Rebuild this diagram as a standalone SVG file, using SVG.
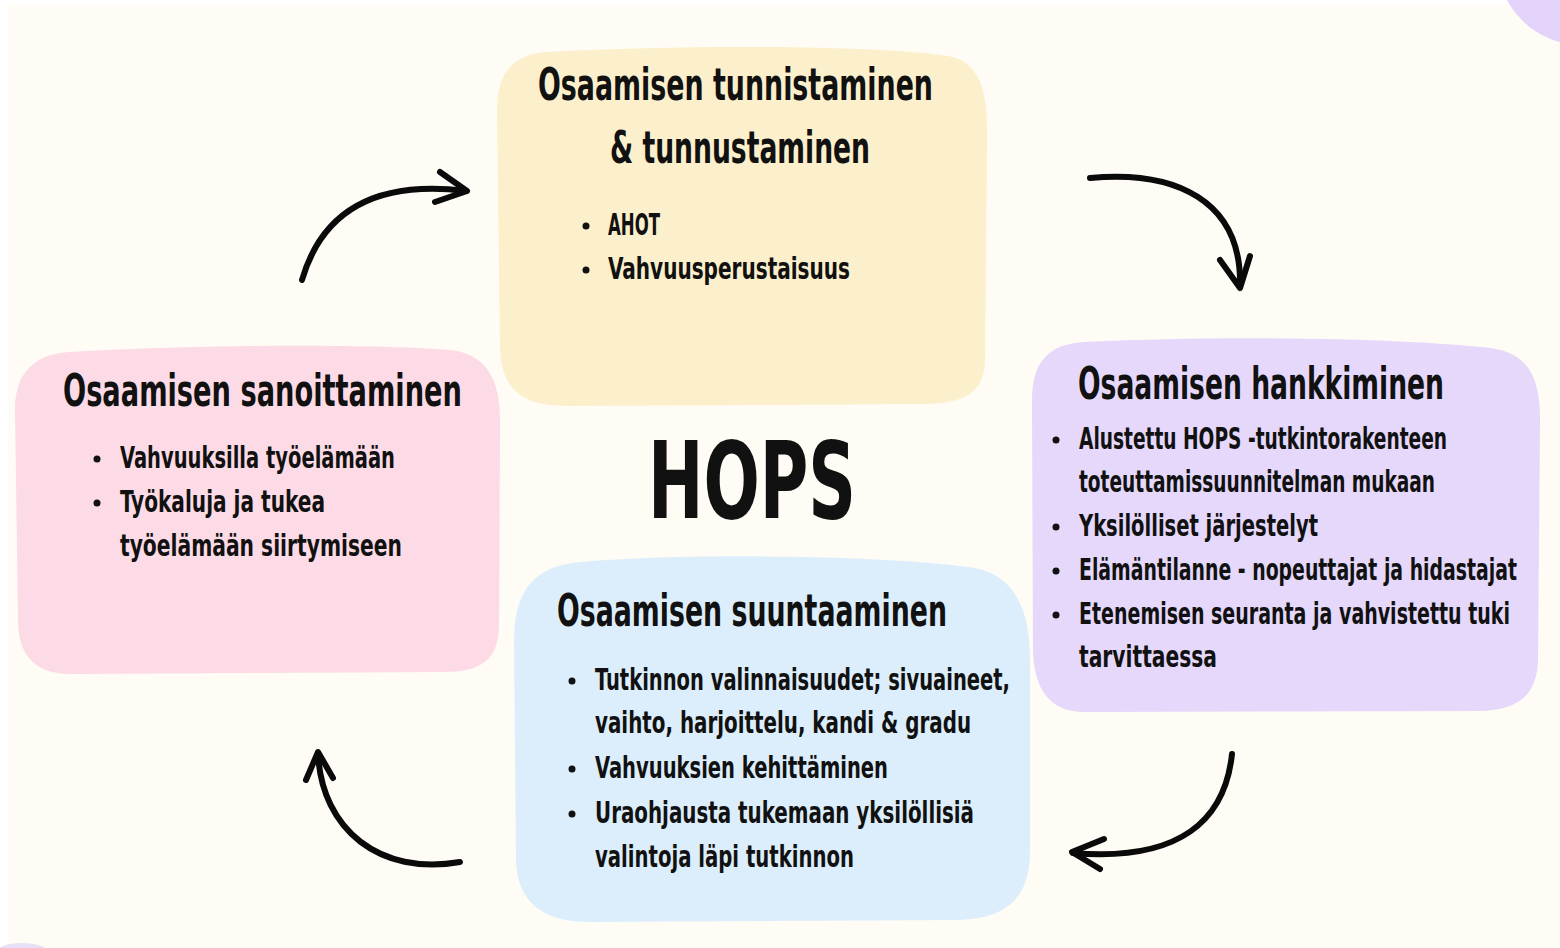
<svg xmlns="http://www.w3.org/2000/svg" width="1560" height="948" viewBox="0 0 1560 948">
<style>
.t{font-family:"Liberation Sans Narrow","DejaVu Sans Condensed","Liberation Sans",sans-serif;font-weight:bold;fill:#111;}
.h{font-size:44px;}
.b{font-size:30px;}
.dot{fill:#111;}
.arr{fill:none;stroke:#0a0a0a;stroke-width:6;stroke-linecap:round;stroke-linejoin:round;}
</style>
<rect x="0" y="0" width="1560" height="948" fill="#ffffff"/>
<rect x="8" y="5" width="1552" height="943" fill="#fefcf4"/>
<circle cx="1582" cy="-40" r="85" fill="#e3d3fb"/>
<ellipse cx="22" cy="952" rx="26" ry="9" fill="#e8e0f6"/>

<g id="node-tunnistaminen">
<path d="M548,52 C700,44 880,46 948,56 C982,62 988,95 987,140 L985,360 C984,395 962,404 920,404 L565,406 C518,406 500,385 500,345 L497,110 C497,70 515,54 548,52 Z" fill="#fcefcb"/>
<circle class="dot" cx="586" cy="226" r="3.5"/>
<circle class="dot" cx="586" cy="270" r="3.5"/>
<g transform="scale(0.65 1)">
<text class="t h" x="827.7" y="100" textLength="607.7" lengthAdjust="spacingAndGlyphs">Osaamisen tunnistaminen</text>
<text class="t h" x="938.5" y="163" textLength="400" lengthAdjust="spacingAndGlyphs">&amp; tunnustaminen</text>
<text class="t b" x="935.4" y="235" textLength="80" lengthAdjust="spacingAndGlyphs">AHOT</text>
<text class="t b" x="935.4" y="279" textLength="372.3" lengthAdjust="spacingAndGlyphs">Vahvuusperustaisuus</text>
</g>
</g>

<g id="node-suuntaaminen">
<path d="M580,562 C700,552 900,556 975,568 C1015,576 1030,610 1030,660 L1030,850 C1030,900 1005,918 960,920 L590,922 C540,922 517,900 516,860 L514,640 C514,590 535,566 580,562 Z" fill="#dceefb"/>
<circle class="dot" cx="572" cy="681" r="3.5"/>
<circle class="dot" cx="572" cy="769" r="3.5"/>
<circle class="dot" cx="572" cy="814" r="3.5"/>
<g transform="scale(0.65 1)">
<text class="t h" x="856.9" y="626" textLength="600" lengthAdjust="spacingAndGlyphs">Osaamisen suuntaaminen</text>
<text class="t b" x="915.4" y="690" textLength="638.5" lengthAdjust="spacingAndGlyphs">Tutkinnon valinnaisuudet; sivuaineet,</text>
<text class="t b" x="915.4" y="733" textLength="578.5" lengthAdjust="spacingAndGlyphs">vaihto, harjoittelu, kandi &amp; gradu</text>
<text class="t b" x="915.4" y="778" textLength="450.8" lengthAdjust="spacingAndGlyphs">Vahvuuksien kehittäminen</text>
<text class="t b" x="915.4" y="823" textLength="583.1" lengthAdjust="spacingAndGlyphs">Uraohjausta tukemaan yksilöllisiä</text>
<text class="t b" x="915.4" y="867" textLength="398.5" lengthAdjust="spacingAndGlyphs">valintoja läpi tutkinnon</text>
</g>
</g>

<g id="node-hankkiminen">
<path d="M1085,342 C1250,334 1420,340 1490,348 C1530,353 1540,380 1540,420 L1538,660 C1537,698 1515,710 1480,711 L1085,712 C1050,712 1034,690 1033,650 L1032,400 C1032,360 1050,344 1085,342 Z" fill="#e5d8fb"/>
<circle class="dot" cx="1056" cy="440" r="3.5"/>
<circle class="dot" cx="1056" cy="527" r="3.5"/>
<circle class="dot" cx="1056" cy="571" r="3.5"/>
<circle class="dot" cx="1056" cy="615" r="3.5"/>
<g transform="scale(0.65 1)">
<text class="t h" x="1658.5" y="399" textLength="563.1" lengthAdjust="spacingAndGlyphs">Osaamisen hankkiminen</text>
<text class="t b" x="1660" y="449" textLength="566.2" lengthAdjust="spacingAndGlyphs">Alustettu HOPS -tutkintorakenteen</text>
<text class="t b" x="1660" y="492" textLength="547.7" lengthAdjust="spacingAndGlyphs">toteuttamissuunnitelman mukaan</text>
<text class="t b" x="1660" y="536" textLength="367.7" lengthAdjust="spacingAndGlyphs">Yksilölliset järjestelyt</text>
<text class="t b" x="1660" y="580" textLength="673.8" lengthAdjust="spacingAndGlyphs">Elämäntilanne - nopeuttajat ja hidastajat</text>
<text class="t b" x="1660" y="624" textLength="663.1" lengthAdjust="spacingAndGlyphs">Etenemisen seuranta ja vahvistettu tuki</text>
<text class="t b" x="1660" y="667" textLength="212.3" lengthAdjust="spacingAndGlyphs">tarvittaessa</text>
</g>
</g>

<g id="node-sanoittaminen">
<path d="M70,352 C200,344 380,344 450,350 C490,354 500,385 500,420 L499,625 C499,660 480,672 445,672 L70,674 C35,674 18,655 18,620 L15,410 C15,372 35,354 70,352 Z" fill="#fcdbe6"/>
<circle class="dot" cx="97" cy="459" r="3.5"/>
<circle class="dot" cx="97" cy="503" r="3.5"/>
<g transform="scale(0.65 1)">
<text class="t h" x="96.9" y="406" textLength="613.8" lengthAdjust="spacingAndGlyphs">Osaamisen sanoittaminen</text>
<text class="t b" x="184.6" y="468" textLength="423.1" lengthAdjust="spacingAndGlyphs">Vahvuuksilla työelämään</text>
<text class="t b" x="184.6" y="512" textLength="315.4" lengthAdjust="spacingAndGlyphs">Työkaluja ja tukea</text>
<text class="t b" x="184.6" y="556" textLength="433.8" lengthAdjust="spacingAndGlyphs">työelämään siirtymiseen</text>
</g>
</g>

<g id="node-hops">
<g transform="scale(0.75 1)">
<text class="t" x="864" y="518" font-size="106" textLength="277.3" lengthAdjust="spacingAndGlyphs">HOPS</text>
</g>
</g>

<g id="connectors">
<path class="arr" d="M302,280 C318,225 360,178 466,191"/>
<path class="arr" d="M440,172 L467,191 L435,202"/>
<path class="arr" d="M1090,178 C1175,170 1242,200 1240,286"/>
<path class="arr" d="M1220,260 L1240,288 L1250,256"/>
<path class="arr" d="M1232,754 C1225,820 1180,862 1073,853"/>
<path class="arr" d="M1104,839 L1072,852 L1100,869"/>
<path class="arr" d="M460,862 C380,876 322,830 318,754"/>
<path class="arr" d="M306,780 L318,752 L333,778"/>
</g>
</svg>
